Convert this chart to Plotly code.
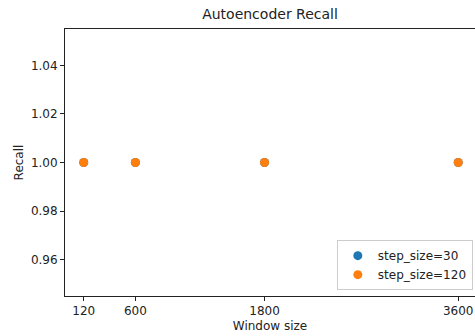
import plotly.graph_objects as go

window_sizes = [120, 600, 1800, 3600]
recall_step30 = [1.0, 1.0, 1.0, 1.0]
recall_step120 = [1.0, 1.0, 1.0, 1.0]
series_names = ["step_size=30", "step_size=120"]
colors = ["#1f77b4", "#ff7f0e"]

fig = go.Figure()
for name, vals, c in zip(series_names, [recall_step30, recall_step120], colors):
    fig.add_trace(go.Scatter(x=window_sizes, y=vals, mode="markers", name=name,
                             marker=dict(color=c, size=9)))

font = "DejaVu Sans, sans-serif"
fig.update_layout(
    width=475, height=336,
    margin=dict(l=65, r=0, t=29, b=40),
    paper_bgcolor="white", plot_bgcolor="white",
    font=dict(family=font, size=12, color="#222"),
    title=dict(text="Autoencoder Recall", x=270 / 475, xanchor="center",
               y=1 - 14 / 336, yanchor="middle", font=dict(size=14, color="#222")),
    xaxis=dict(range=[-54, 3756], tickvals=window_sizes, ticktext=[str(v) for v in window_sizes],
               showgrid=False, zeroline=False, showline=True, linecolor="#222", linewidth=1,
               mirror=True, ticks="outside", ticklen=4, tickcolor="#222",
               title=dict(text="Window size", standoff=4, font=dict(size=12))),
    yaxis=dict(range=[0.945, 1.055], tickvals=[0.96, 0.98, 1.00, 1.02, 1.04],
               ticktext=["0.96", "0.98", "1.00", "1.02", "1.04"],
               showgrid=False, zeroline=False, showline=True, linecolor="#222", linewidth=1,
               ticks="outside", ticklen=4, tickcolor="#222",
               title=dict(text="Recall", standoff=4, font=dict(size=12))),
    legend=dict(x=0.663, y=0.022, xanchor="left", yanchor="bottom",
                bordercolor="#cccccc", borderwidth=1, bgcolor="white",
                font=dict(size=12), itemwidth=30, tracegroupgap=0),
    showlegend=True,
)
fig.write_html("out.html")
